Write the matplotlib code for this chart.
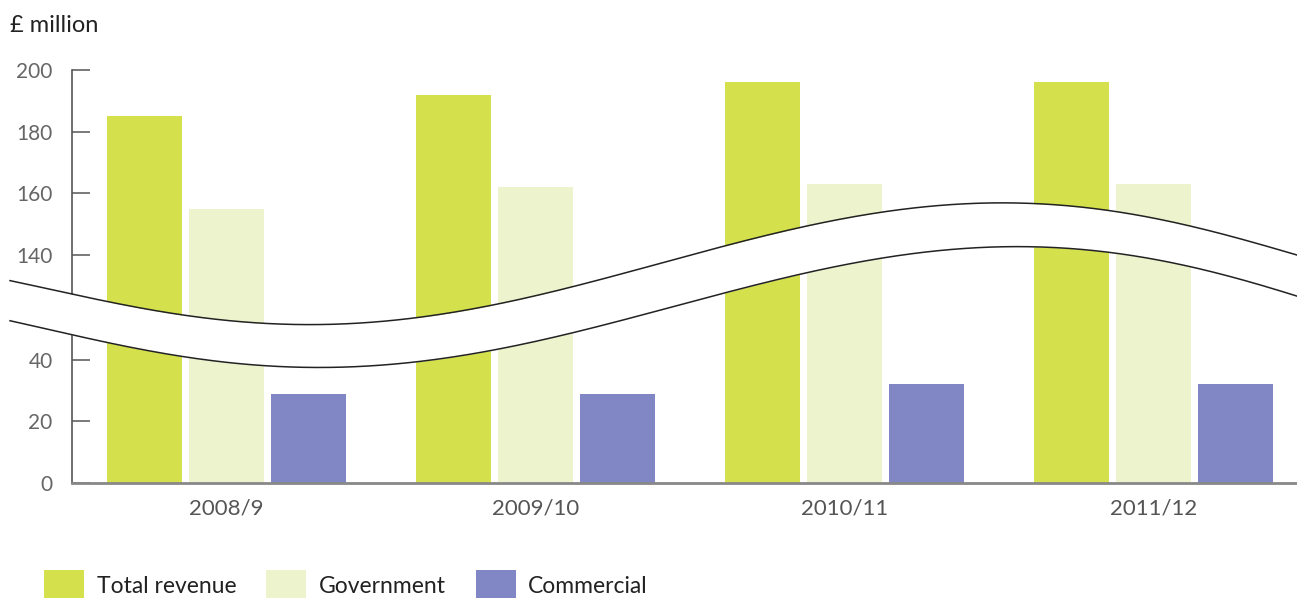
import numpy as np
import matplotlib
matplotlib.use("Agg")
import matplotlib.pyplot as plt

plt.rcParams['font.family'] = ['Lato', 'DejaVu Sans']

# data
years = ['2008/9', '2009/10', '2010/11', '2011/12']
total_revenue = [185, 192, 196, 196]
government = [155, 162, 163, 163]
commercial = [29, 29, 32, 32]
yticks = [0, 20, 40, 140, 160, 180, 200]

# broken axis: 40..140 squeezed into a short band
LO, HI, SQ = 40.0, 140.0, 0.341


def fwd(v):
    v = np.asarray(v, dtype=float)
    return np.where(v <= LO, v,
                    np.where(v >= HI, LO + (HI - LO) * SQ + (v - HI),
                             LO + (v - LO) * SQ))


def inv(u):
    u = np.asarray(u, dtype=float)
    top = LO + (HI - LO) * SQ
    return np.where(u <= LO, u,
                    np.where(u >= top, HI + (u - top),
                             LO + (u - LO) / SQ))


W, H = 1297, 598
fig = plt.figure(figsize=(W / 100, H / 100), dpi=100)
ax = fig.add_axes([72 / W, 1 - 483 / H, 1 - 72 / W, (483 - 70) / H])
ax.set_yscale('function', functions=(fwd, inv))

x = np.arange(len(years))
bw, off = 0.243, 0.265
c_total, c_gov, c_com = '#d4e04c', '#edf3cc', '#8087c4'
b1 = ax.bar(x - off, total_revenue, bw, color=c_total, label='Total revenue')
b2 = ax.bar(x, government, bw, color=c_gov, label='Government')
b3 = ax.bar(x + off, commercial, bw, color=c_com, label='Commercial')

ax.set_xlim(-0.5, (W - 226.5) / 309)
ax.set_ylim(0, 200)
ax.set_yticks(yticks)
ax.set_yticklabels([str(t) for t in yticks])
ax.minorticks_off()
ax.set_xticks(x)
ax.set_xticklabels(years)

for s in ['top', 'right']:
    ax.spines[s].set_visible(False)
ax.spines['left'].set_color('#555555')
ax.spines['left'].set_linewidth(1.2)
ax.spines['bottom'].set_color('#888888')
ax.spines['bottom'].set_linewidth(2)

ax.tick_params(axis='y', direction='in', length=13, width=1.1, color='#555555',
               labelsize=15, labelcolor='#666666', pad=14)
ax.tick_params(axis='x', length=0, labelsize=16, labelcolor='#555555', pad=11)

fig.text(10 / W, 1 - 25 / H, '£ million', fontsize=17, color='#222222',
         va='center', ha='left')

# wavy break band (pixel points of the two edges)
up_x = [10, 72, 150, 320, 500, 573, 725, 850, 993, 1100, 1150, 1297]
up_y = [280, 295, 310, 323, 304, 288, 245, 217, 203, 210, 217, 255]
lo_x = [10, 72, 150, 325, 500, 725, 850, 1000, 1100, 1150, 1297]
lo_y = [320, 336, 351, 366, 350, 293, 263, 247, 251, 259, 296]
xs = np.linspace(10, W, 400)
pu = np.polyfit(np.array(up_x) / W, up_y, 5)
pl = np.polyfit(np.array(lo_x) / W, lo_y, 5)
yu = np.polyval(pu, xs / W)
yl = np.polyval(pl, xs / W)
fx = xs / W
ax.fill_between(fx, 1 - yu / H, 1 - yl / H, transform=fig.transFigure,
                color='white', zorder=5, clip_on=False, linewidth=0)
ax.plot(fx, 1 - yu / H, transform=fig.transFigure, color='#222222',
        lw=1.1, zorder=6, clip_on=False)
ax.plot(fx, 1 - yl / H, transform=fig.transFigure, color='#222222',
        lw=1.1, zorder=6, clip_on=False)

fig.legend(handles=[b1, b2, b3], loc='center left',
           bbox_to_anchor=(44 / W, 1 - 586 / H), ncol=3, frameon=False,
           fontsize=16.5, handlelength=1.75, handleheight=1.8,
           handletextpad=0.55, columnspacing=1.3, borderpad=0,
           borderaxespad=0, labelcolor='#222222')

fig.savefig('out.png', dpi=100)
